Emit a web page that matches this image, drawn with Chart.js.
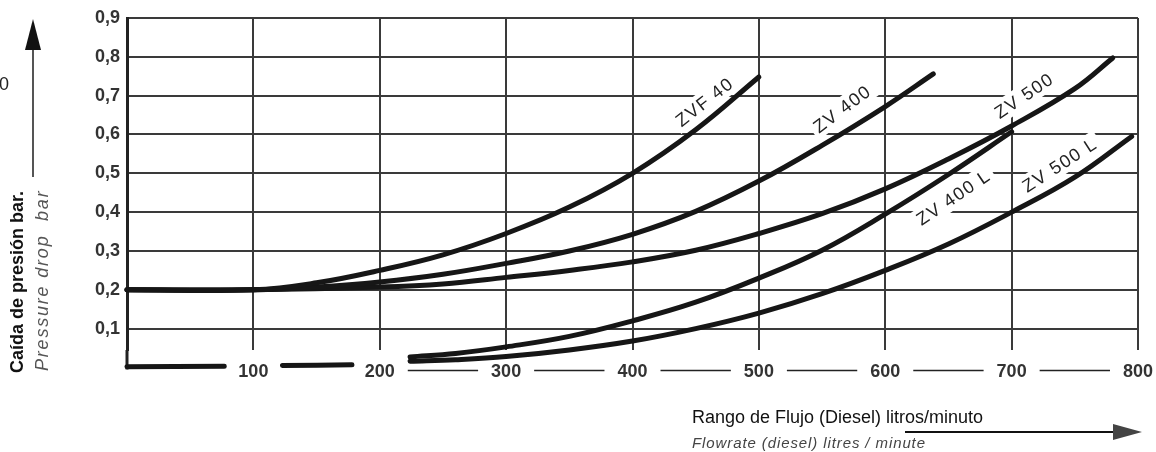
<!DOCTYPE html>
<html>
<head>
<meta charset="utf-8">
<script src="https://cdn.jsdelivr.net/npm/chart.js@4.4.1/dist/chart.umd.min.js"></script>
<style>
  body { margin: 0; background: #fff; }
  canvas { display: block; }
</style>
</head>
<body>
<canvas id="dropChart" width="1156" height="452"></canvas>
<script>
// axis ticks
const flowTicks = [100, 200, 300, 400, 500, 600, 700, 800];
const dropTicks = [0.1, 0.2, 0.3, 0.4, 0.5, 0.6, 0.7, 0.8, 0.9];

// curves: flow (l/min) and pressure drop (bar)
const zvf40Flow = [0, 100, 150, 200, 250, 300, 350, 400, 450, 500];
const zvf40Drop = [0.2, 0.2, 0.218, 0.25, 0.29, 0.345, 0.413, 0.5, 0.612, 0.748];

const zv400Flow = [0, 100, 150, 200, 250, 300, 350, 400, 450, 500, 550, 600, 638];
const zv400Drop = [0.2, 0.2, 0.207, 0.22, 0.24, 0.268, 0.3, 0.343, 0.402, 0.48, 0.572, 0.672, 0.756];

const zv500Flow = [0, 100, 200, 250, 300, 350, 400, 450, 500, 550, 600, 650, 700, 750, 780];
const zv500Drop = [0.2, 0.2, 0.207, 0.215, 0.232, 0.25, 0.272, 0.302, 0.345, 0.396, 0.46, 0.537, 0.622, 0.718, 0.797];

const zv400lFlow = [224, 260, 300, 350, 400, 450, 500, 550, 600, 650, 700];
const zv400lDrop = [0.027, 0.036, 0.053, 0.08, 0.12, 0.168, 0.23, 0.302, 0.395, 0.497, 0.607];

const zv500lFlow = [224, 260, 300, 350, 400, 450, 500, 550, 600, 650, 700, 750, 795];
const zv500lDrop = [0.016, 0.02, 0.028, 0.045, 0.068, 0.1, 0.14, 0.19, 0.25, 0.318, 0.4, 0.49, 0.595];

// heavy baseline pieces at the low end (broken by the tick labels)
const baseFlow = [0, 77, 100, 123, 178];
const baseDrop = [0.002, 0.003, null, 0.005, 0.007];

// curve names, where they sit and their slant
const curveNames = ['ZVF 40', 'ZV 400', 'ZV 500', 'ZV 400 L', 'ZV 500 L'];
const nameFlow = [457, 566, 710, 654, 738];
const nameDrop = [0.684, 0.666, 0.7, 0.438, 0.522];
const nameAngle = [-38, -37, -34, -34, -33];

const FONT = '"Liberation Sans", Arial, Helvetica, sans-serif';
const INK = '#161616';
const GRID = '#3a3a3a';

function pts(xs, ys) {
  return xs.map((x, i) => ({ x: x, y: ys[i] }));
}

function curve(label, xs, ys) {
  return {
    label: label,
    data: pts(xs, ys),
    borderColor: INK,
    borderWidth: 5,
    borderCapStyle: 'round',
    borderJoinStyle: 'round',
    pointRadius: 0,
    tension: 0.4,
    spanGaps: false,
    clip: false
  };
}

const decor = {
  id: 'decor',
  beforeDatasetsDraw(chart) {
    const ctx = chart.ctx;
    const xs = chart.scales.x, ys = chart.scales.y;
    const area = chart.chartArea;
    const y0 = ys.getPixelForValue(0);

    ctx.save();
    // left frame runs down to the zero line
    ctx.strokeStyle = '#222';
    ctx.lineWidth = 3;
    ctx.beginPath();
    ctx.moveTo(area.left, area.bottom);
    ctx.lineTo(area.left, y0 + 2);
    ctx.stroke();

    // flow labels sitting on the zero line
    ctx.font = 'bold 18px ' + FONT;
    ctx.fillStyle = '#333';
    ctx.textAlign = 'center';
    ctx.textBaseline = 'middle';
    const gaps = [];
    flowTicks.forEach(t => {
      const cx = xs.getPixelForValue(t);
      const w = ctx.measureText(String(t)).width;
      ctx.fillText(String(t), cx, y0 + 5);
      gaps.push([cx - w / 2 - 13, cx + w / 2 + 13]);
    });

    // thin axis line between the labels from 200 upward
    ctx.strokeStyle = '#222';
    ctx.lineWidth = 1.5;
    ctx.beginPath();
    for (let i = 1; i < gaps.length - 1; i++) {
      ctx.moveTo(gaps[i][1], y0 + 3);
      ctx.lineTo(gaps[i + 1][0], y0 + 3);
    }
    ctx.stroke();

    // curve names on a white patch over the grid
    ctx.font = '18px ' + FONT;
    ctx.letterSpacing = '1.5px';
    curveNames.forEach((name, i) => {
      const px = xs.getPixelForValue(nameFlow[i]);
      const py = ys.getPixelForValue(nameDrop[i]);
      ctx.save();
      ctx.translate(px, py);
      ctx.rotate(nameAngle[i] * Math.PI / 180);
      const w = ctx.measureText(name).width;
      ctx.fillStyle = '#fff';
      ctx.fillRect(-w / 2 - 4, -11, w + 8, 22);
      ctx.fillStyle = '#222';
      ctx.fillText(name, 0, 1);
      ctx.restore();
    });
    ctx.letterSpacing = '0px';
    ctx.restore();
  },
  afterDraw(chart) {
    const ctx = chart.ctx;
    ctx.save();

    // vertical axis title
    ctx.textAlign = 'left';
    ctx.textBaseline = 'middle';
    ctx.save();
    ctx.translate(18, 373);
    ctx.rotate(-Math.PI / 2);
    ctx.font = 'bold 18px ' + FONT;
    ctx.fillStyle = '#111';
    ctx.fillText('Caída de presión bar.', 0, 0);
    ctx.restore();

    ctx.save();
    ctx.translate(43, 371);
    ctx.rotate(-Math.PI / 2);
    ctx.font = 'italic 18px ' + FONT;
    ctx.letterSpacing = '1.8px';
    ctx.fillStyle = '#555';
    ctx.fillText('Pressure drop  bar', 0, 0);
    ctx.letterSpacing = '0px';
    ctx.restore();

    ctx.font = '18px ' + FONT;
    ctx.fillStyle = '#222';
    ctx.fillText('0', -1, 85);

    // upward arrow
    ctx.strokeStyle = '#555';
    ctx.lineWidth = 2;
    ctx.beginPath();
    ctx.moveTo(33, 48);
    ctx.lineTo(33, 177);
    ctx.stroke();
    ctx.fillStyle = '#111';
    ctx.beginPath();
    ctx.moveTo(33, 19);
    ctx.lineTo(41, 50);
    ctx.lineTo(25, 50);
    ctx.closePath();
    ctx.fill();

    // horizontal axis title
    ctx.font = '18px ' + FONT;
    ctx.fillStyle = '#111';
    ctx.fillText('Rango de Flujo (Diesel) litros/minuto', 692, 418);
    ctx.font = 'italic 15px ' + FONT;
    ctx.letterSpacing = '0.9px';
    ctx.fillStyle = '#444';
    ctx.fillText('Flowrate (diesel) litres / minute', 692, 444);
    ctx.letterSpacing = '0px';

    // rightward arrow
    ctx.strokeStyle = '#111';
    ctx.lineWidth = 2;
    ctx.beginPath();
    ctx.moveTo(905, 432);
    ctx.lineTo(1116, 432);
    ctx.stroke();
    ctx.beginPath();
    ctx.moveTo(1142, 432);
    ctx.lineTo(1113, 424);
    ctx.lineTo(1113, 440);
    ctx.closePath();
    ctx.fill();
    ctx.restore();
  }
};

new Chart(document.getElementById('dropChart'), {
  type: 'line',
  data: {
    datasets: [
      curve('ZVF 40', zvf40Flow, zvf40Drop),
      curve('ZV 400', zv400Flow, zv400Drop),
      curve('ZV 500', zv500Flow, zv500Drop),
      curve('ZV 400 L', zv400lFlow, zv400lDrop),
      curve('ZV 500 L', zv500lFlow, zv500lDrop),
      curve('base', baseFlow, baseDrop)
    ]
  },
  options: {
    responsive: false,
    animation: false,
    layout: { padding: { left: 0, right: 18, top: 18, bottom: 102 } },
    plugins: {
      legend: { display: false },
      tooltip: { enabled: false }
    },
    scales: {
      x: {
        type: 'linear',
        min: 0,
        max: 800,
        afterBuildTicks: s => { s.ticks = flowTicks.map(v => ({ value: v })); },
        afterFit: s => { s.height = 0; },
        ticks: { display: false },
        grid: { color: GRID, lineWidth: 2, drawTicks: false },
        border: { display: false }
      },
      y: {
        min: 0.045,
        max: 0.9,
        afterBuildTicks: s => { s.ticks = dropTicks.map(v => ({ value: v })); },
        afterFit: s => { s.width = 127; },
        ticks: {
          callback: v => v.toFixed(1).replace('.', ','),
          font: { family: FONT, size: 18, weight: 'bold' },
          color: '#333',
          padding: 7
        },
        grid: { color: GRID, lineWidth: 2, drawTicks: false },
        border: { display: true, color: '#222', width: 3 }
      }
    }
  },
  plugins: [decor]
});
</script>
</body>
</html>
